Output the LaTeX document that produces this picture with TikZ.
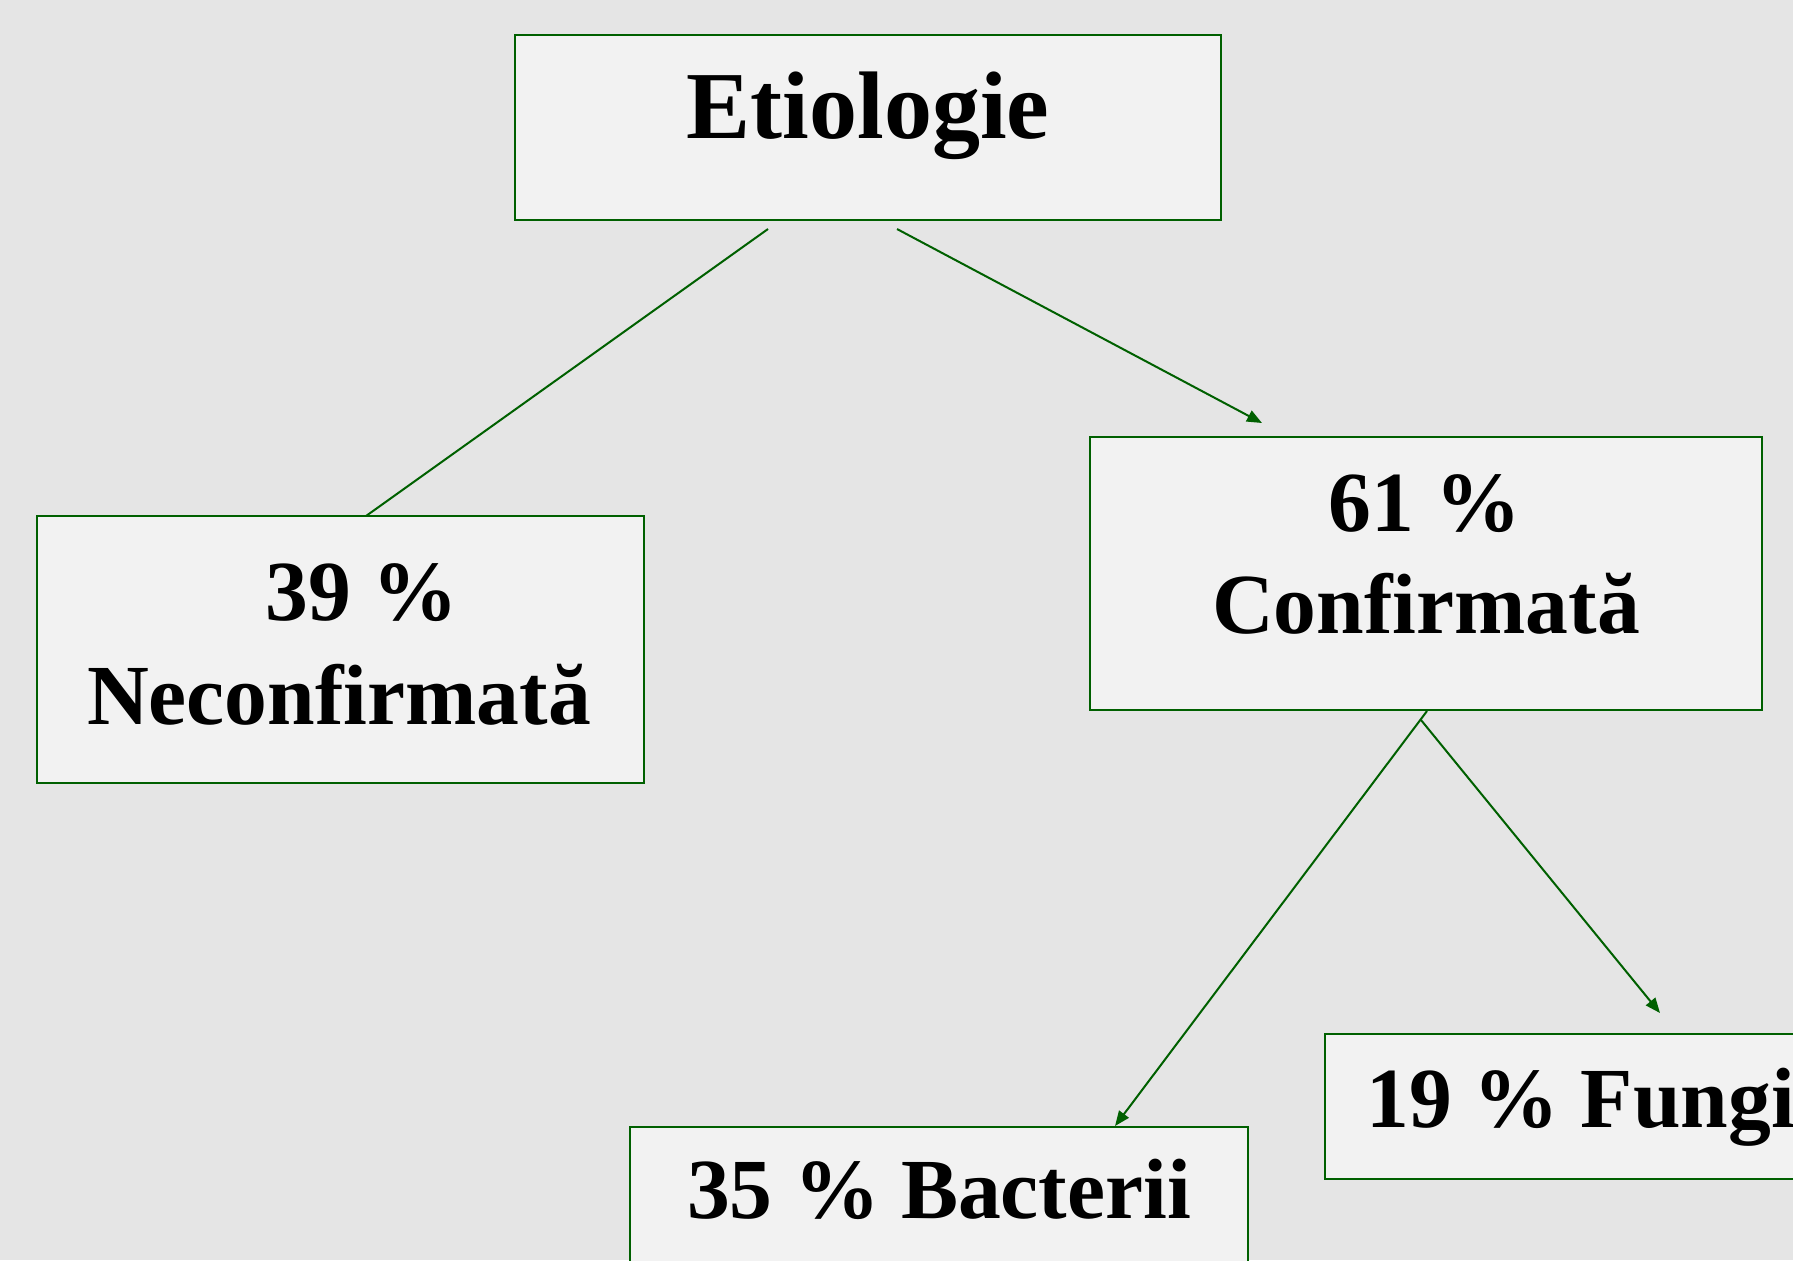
\documentclass[tikz,border=0pt]{standalone}
\usepackage{fontspec}
\setmainfont{Liberation Serif}
\usetikzlibrary{arrows.meta,calc}
\definecolor{bg}{RGB}{229,229,229}
\definecolor{boxfill}{RGB}{242,242,242}
\definecolor{edge}{RGB}{0,96,0}
\tikzset{
  box/.style={draw=edge, fill=boxfill, line width=1pt, rectangle, inner sep=0pt, outer sep=0pt, anchor=north west},
  big/.style={inner sep=0pt, anchor=base, font=\fontsize{48pt}{58pt}\selectfont\bfseries},
  txt/.style={inner sep=0pt, anchor=base, font=\fontsize{42.8pt}{52pt}\selectfont\bfseries},
  conn/.style={draw=edge, line width=1pt},
  arr/.style={conn, -{Triangle[length=7.5pt,width=6pt]}}
}
\begin{document}
\begin{tikzpicture}[x=0.5pt, y=-0.5pt]
  \useasboundingbox (0,0) rectangle (1793,1260);
  \fill[bg] (0,0) rectangle (1793,1260);
  % boxes
  \node[box, minimum width=353pt, minimum height=92.5pt] (etio) at (515,35) {};
  \node[box, minimum width=303.5pt, minimum height=133.5pt] (necon) at (37,516) {};
  \node[box, minimum width=336pt, minimum height=136.5pt] (conf) at (1090,437) {};
  \node[box, minimum width=309pt, minimum height=81.5pt] (bact) at (630,1127) {};
  \node[box, minimum width=256pt, minimum height=72.5pt] (fungi) at (1325,1034) {};
  % texts
  \node[big] (etiot) at (868,138) {Etiologie};
  \node[txt] (necon1) at (362,620) {39 \%};
  \node[txt] (necon2) at (339,724) {Neconfirmată};
  \node[txt] (conf1) at (1425,531) {61 \%};
  \node[txt] (conf2) at (1426,633) {Confirmată};
  \node[txt] (bactt) at (939,1218) {35 \% Bacterii};
  \node[txt] (fungit) at (1581,1127) {19 \% Fungi};
  % connectors
  \draw[conn] ($(etio.south west)+(253,9)$) -- ($(necon.north west)+(329,0)$);
  \draw[arr] ($(etio.south west)+(382,9)$) -- ($(conf.north west)+(172,-14)$);
  \draw[arr] ($(conf.south west)+(337,1)$) -- ($(bact.north west)+(485,-1)$);
  \draw[arr] ($(conf.south west)+(331,10)$) -- ($(fungi.north west)+(335,-21)$);
\end{tikzpicture}
\end{document}
